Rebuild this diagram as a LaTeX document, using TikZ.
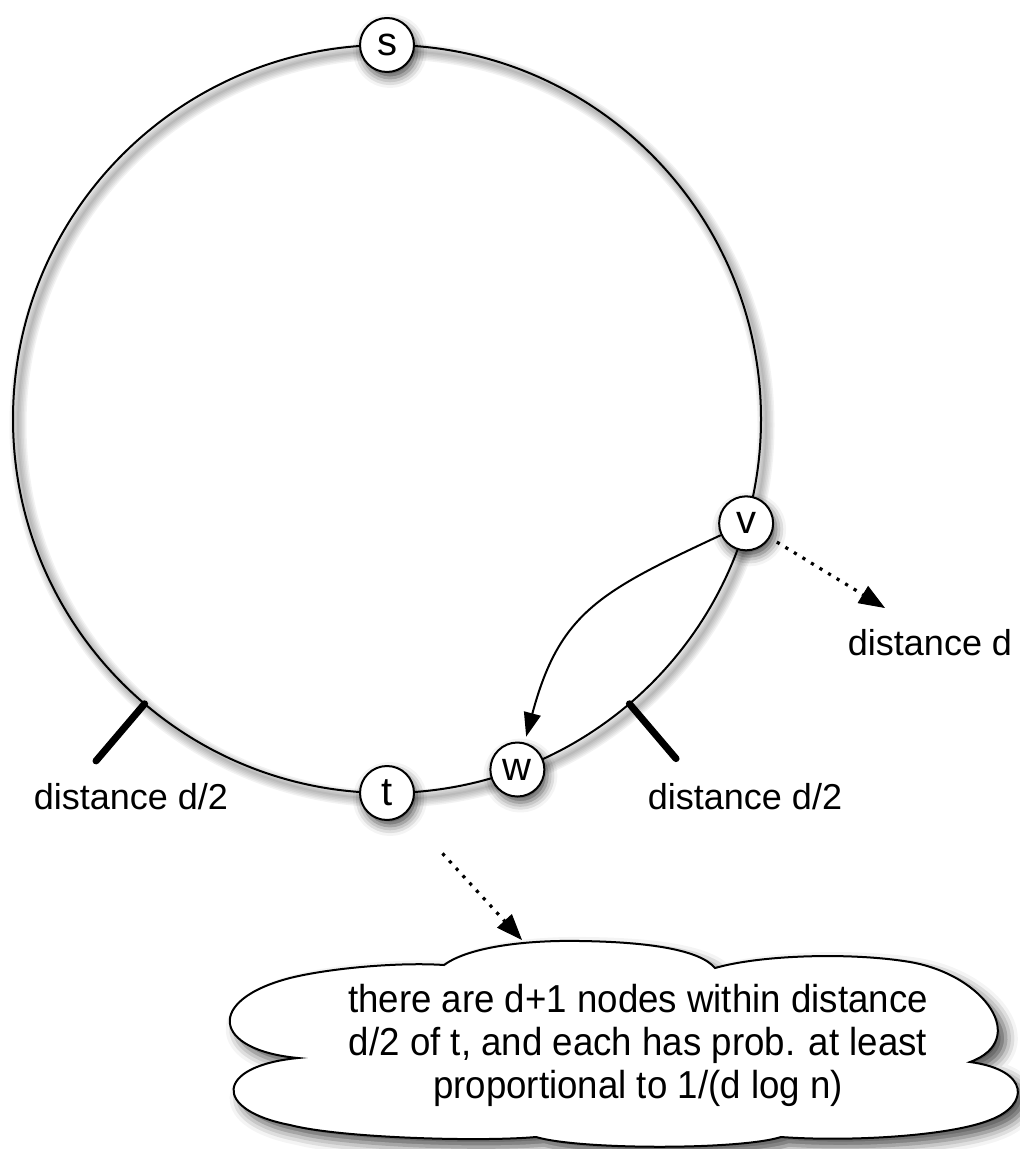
\documentclass[tikz,border=0pt]{standalone}
\usepackage{fontspec}
\setmainfont{Liberation Sans}
\newfontfamily\notefont[FakeStretch=0.94]{Liberation Sans}
\usetikzlibrary{arrows.meta,shadows.blur,calc}
\begin{document}
\begin{tikzpicture}[x=0.5pt,y=0.5pt,
  vtx/.style={circle,draw,line width=1pt,fill=white,minimum size=27pt,inner sep=0pt,
    font=\fontsize{20}{22}\selectfont,
    blur shadow={shadow xshift=1.5pt,shadow yshift=-3pt,shadow blur radius=5pt,shadow opacity=70}},
  lbl/.style={font=\fontsize{18}{21.5}\selectfont, inner sep=0pt},
  dotarrow/.style={line width=1.6pt, dash pattern=on 1.6pt off 3.4pt,
    -{Triangle[length=13pt,width=10pt,fill=black,line width=0.5pt]}},
  tickmark/.style={line width=3.5pt, line cap=round},
  ringshadow/.style={black,opacity=0.05}
]
\useasboundingbox (0,0) rectangle (1019,-1149);
\coordinate (c) at (387,-419);
% soft shadow of the ring
\foreach \lw in {1pt,2.5pt,4pt,5.5pt,7pt,8.5pt}{
  \draw[ringshadow,line width=\lw] ($(c)+(5,-6)$) circle[radius=374];
}
\draw[line width=1pt] (c) circle[radius=374];

% tick marks
\coordinate (tl1) at ($(c)+(229.6:374)$);
\coordinate (tl2) at ($(c)+(229.6:449)$);
\coordinate (tr1) at ($(c)+(310.4:374)$);
\coordinate (tr2) at ($(c)+(310.4:446)$);
\draw[tickmark] (tl1) -- (tl2);
\draw[tickmark] (tr1) -- (tr2);

% vertices
\node[vtx] (s) at ($(c)+(90:374)$) {s};
\node[vtx] (t) at ($(c)+(270:374)$) {t};
\node[vtx] (w) at ($(c)+(290.4:374)$) {w};
\node[vtx] (v) at ($(c)+(343.8:374)$) {v};

% labels
\node[lbl] (ld) at (131,-797) {distance d/2};
\node[lbl] (rd) at (745,-797) {distance d/2};
\node[lbl] (dd) at (930,-643) {distance d};

% cloud
\path[draw, line width=1pt, fill=white,
  blur shadow={shadow xshift=4pt,shadow yshift=-4pt,shadow blur radius=6pt,shadow opacity=70}]
  (298,-1058) .. controls (212,-1050) and (205,-1000) .. (290,-978)
  .. controls (330,-968) and (400,-962) .. (444,-965)
  .. controls (470,-946) and (530,-940) .. (580,-941)
  .. controls (650,-942) and (700,-950) .. (715,-968)
  .. controls (760,-955) and (850,-952) .. (910,-962)
  .. controls (985,-975) and (1030,-1040) .. (970,-1062)
  .. controls (1030,-1070) and (1030,-1105) .. (990,-1120)
  .. controls (950,-1136) and (850,-1142) .. (781,-1137)
  .. controls (740,-1150) and (580,-1150) .. (536,-1137)
  .. controls (480,-1142) and (340,-1138) .. (290,-1125)
  .. controls (212,-1110) and (215,-1066) .. (298,-1058) -- cycle;
\node[lbl, align=center, font=\notefont\fontsize{19.5}{21.5}\selectfont] (note) at (638,-1045)
  {there are d+1 nodes within distance\\ d/2 of t, and each has prob. at least\\ proportional to 1/(d log n)};
\coordinate (ctop) at (522,-940);
\coordinate (vend) at (885,-608);

% connectors
\draw[line width=1pt, -{Triangle[length=12pt,width=8.5pt,fill=black]}, shorten >=3pt]
  (v) to[out=205,in=75,looseness=1.2] (w);
\draw[dotarrow, shorten <=4pt] (v) -- (vend);
\draw[dotarrow, shorten <=27pt] (t) -- (ctop);
\end{tikzpicture}
\end{document}
